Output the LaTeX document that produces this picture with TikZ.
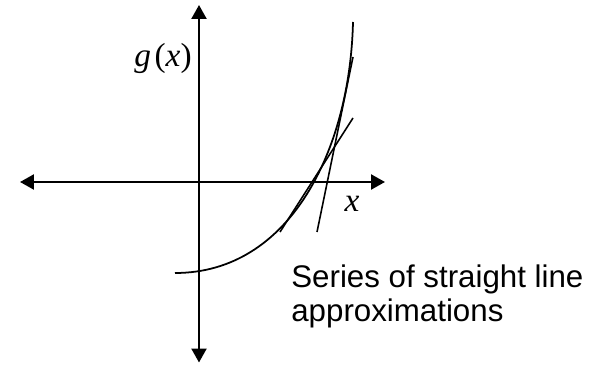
\documentclass[tikz,border=0pt]{standalone}
\usepackage{fontspec}
\setmainfont{Liberation Sans}
\newfontfamily\tnr{Liberation Serif}
\usetikzlibrary{arrows.meta}

\begin{document}
\begin{tikzpicture}[
  x=0.02cm, y=0.02cm,
  axis/.style={{Triangle[length=0.28cm,width=0.3cm]}-{Triangle[length=0.28cm,width=0.3cm]}, line width=1.3pt},
  curve/.style={line width=1pt},
  approx/.style={line width=0.9pt},
  mathlabel/.style={inner sep=0pt, font=\tnr\itshape}
]
\useasboundingbox (0,0) rectangle (598,365);
\coordinate (xneg) at (20,183);
\coordinate (xpos) at (385,183);
\coordinate (yneg) at (199,2.5);
\coordinate (ypos) at (199,360);
\draw[axis] (xneg) -- (xpos);
\draw[axis] (yneg) -- (ypos);

\coordinate (start) at (175,92);
\coordinate (top) at (353,343);
\draw[curve] (start) .. controls (290,92) and (350,215) .. (top);

\coordinate (a1) at (280,133);
\coordinate (a2) at (353,247);
\coordinate (b1) at (317,133);
\coordinate (b2) at (353,308);
\draw[approx] (a1) -- (a2);
\draw[approx] (b1) -- (b2);

\node[mathlabel, anchor=base east, font=\tnr\fontsize{19}{22}\selectfont] (glabel) at (192,298) {\itshape g\hspace{2pt}\upshape(\itshape x\upshape)};
\node[mathlabel, anchor=base, font=\tnr\itshape\fontsize{19}{22}\selectfont] (xlabel) at (352,153) {x};
\node[anchor=base west, inner sep=0pt, align=left, font=\fontsize{17.8}{19.3}\selectfont] (approxtext) at (291,44) {Series of straight line\\approximations};
\end{tikzpicture}
\end{document}
